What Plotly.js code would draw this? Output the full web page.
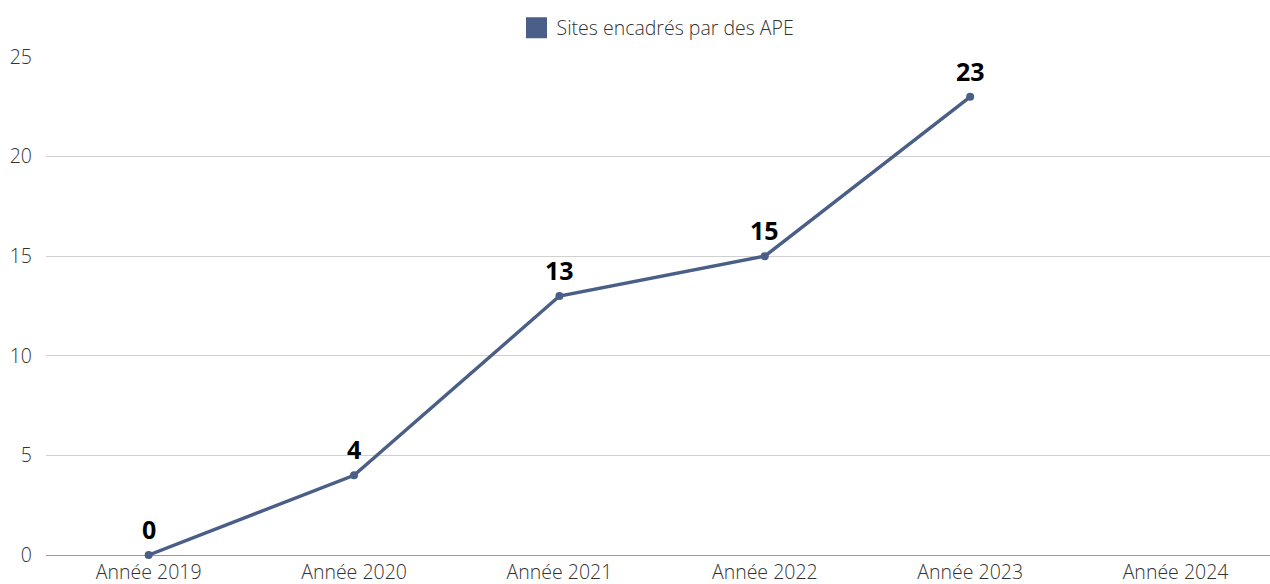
<!DOCTYPE html>
<html>
<head>
<meta charset="utf-8">
<script src="https://cdn.plot.ly/plotly-3.0.1.min.js"></script>
<style>html,body{margin:0;padding:0;background:#fff;}#chart{width:1270px;height:584px;}</style>
</head>
<body>
<div id="chart"></div>
<script>
const categories = ["Année 2019", "Année 2020", "Année 2021", "Année 2022", "Année 2023", "Année 2024"];
const seriesName = "Sites encadrés par des APE";
const values = [0, 4, 13, 15, 23, null];
const labels = ["0", "4", "13", "15", "23", ""];
const yTicks = [0, 5, 10, 15, 20, 25];

const color = "#4a5f87";

const traces = [
  {
    type: "scatter",
    mode: "lines+markers",
    x: categories,
    y: values,
    line: {color: color, width: 3.4},
    marker: {color: color, size: 8},
    showlegend: false,
    hoverinfo: "x+y",
    cliponaxis: false
  },
  {
    type: "scatter",
    mode: "markers",
    x: [categories[0]],
    y: [null],
    name: seriesName,
    marker: {color: color, symbol: "square", size: 16, line: {color: color, width: 5}},
    showlegend: true
  }
];

const annotations = categories
  .map((c, i) => ({c, v: values[i], t: labels[i]}))
  .filter(d => d.v !== null && d.t !== "")
  .map(d => ({
    x: d.c, y: d.v, xref: "x", yref: "y",
    text: "<b>" + d.t + "</b>",
    showarrow: false,
    yanchor: "bottom",
    yshift: 7,
    font: {family: "Open Sans", size: 25, color: "#000"}
  }));

const layout = {
  width: 1270,
  height: 584,
  margin: {l: 46, r: 0, t: 57, b: 29},
  paper_bgcolor: "#fff",
  plot_bgcolor: "#fff",
  font: {family: "Open Sans", color: "#333", size: 19.5, weight: 300},
  showlegend: true,
  legend: {
    orientation: "h",
    x: 0.5, xanchor: "center",
    y: 1.058, yanchor: "middle",
    font: {family: "Open Sans", size: 19.5, color: "#333", weight: 300},
    itemwidth: 30
  },
  annotations: annotations,
  xaxis: {
    type: "category",
    categoryorder: "array",
    categoryarray: categories,
    range: [-0.5, 5.46],
    showgrid: false,
    showline: false,
    zeroline: false,
    tickfont: {family: "Open Sans", size: 19.5, color: "#333", weight: 300},
    ticklabelstandoff: 3,
    ticks: "",
    fixedrange: true
  },
  yaxis: {
    range: [0, 25],
    tickvals: yTicks,
    showgrid: true,
    gridcolor: "#d0d0d0",
    gridwidth: 1,
    zeroline: true,
    zerolinecolor: "#999",
    zerolinewidth: 1,
    tickfont: {family: "Open Sans", size: 19.5, color: "#333", weight: 300},
    ticklabelstandoff: 13,
    fixedrange: true
  }
};

Plotly.newPlot("chart", traces, layout, {displayModeBar: false, staticPlot: true});
</script>
</body>
</html>
